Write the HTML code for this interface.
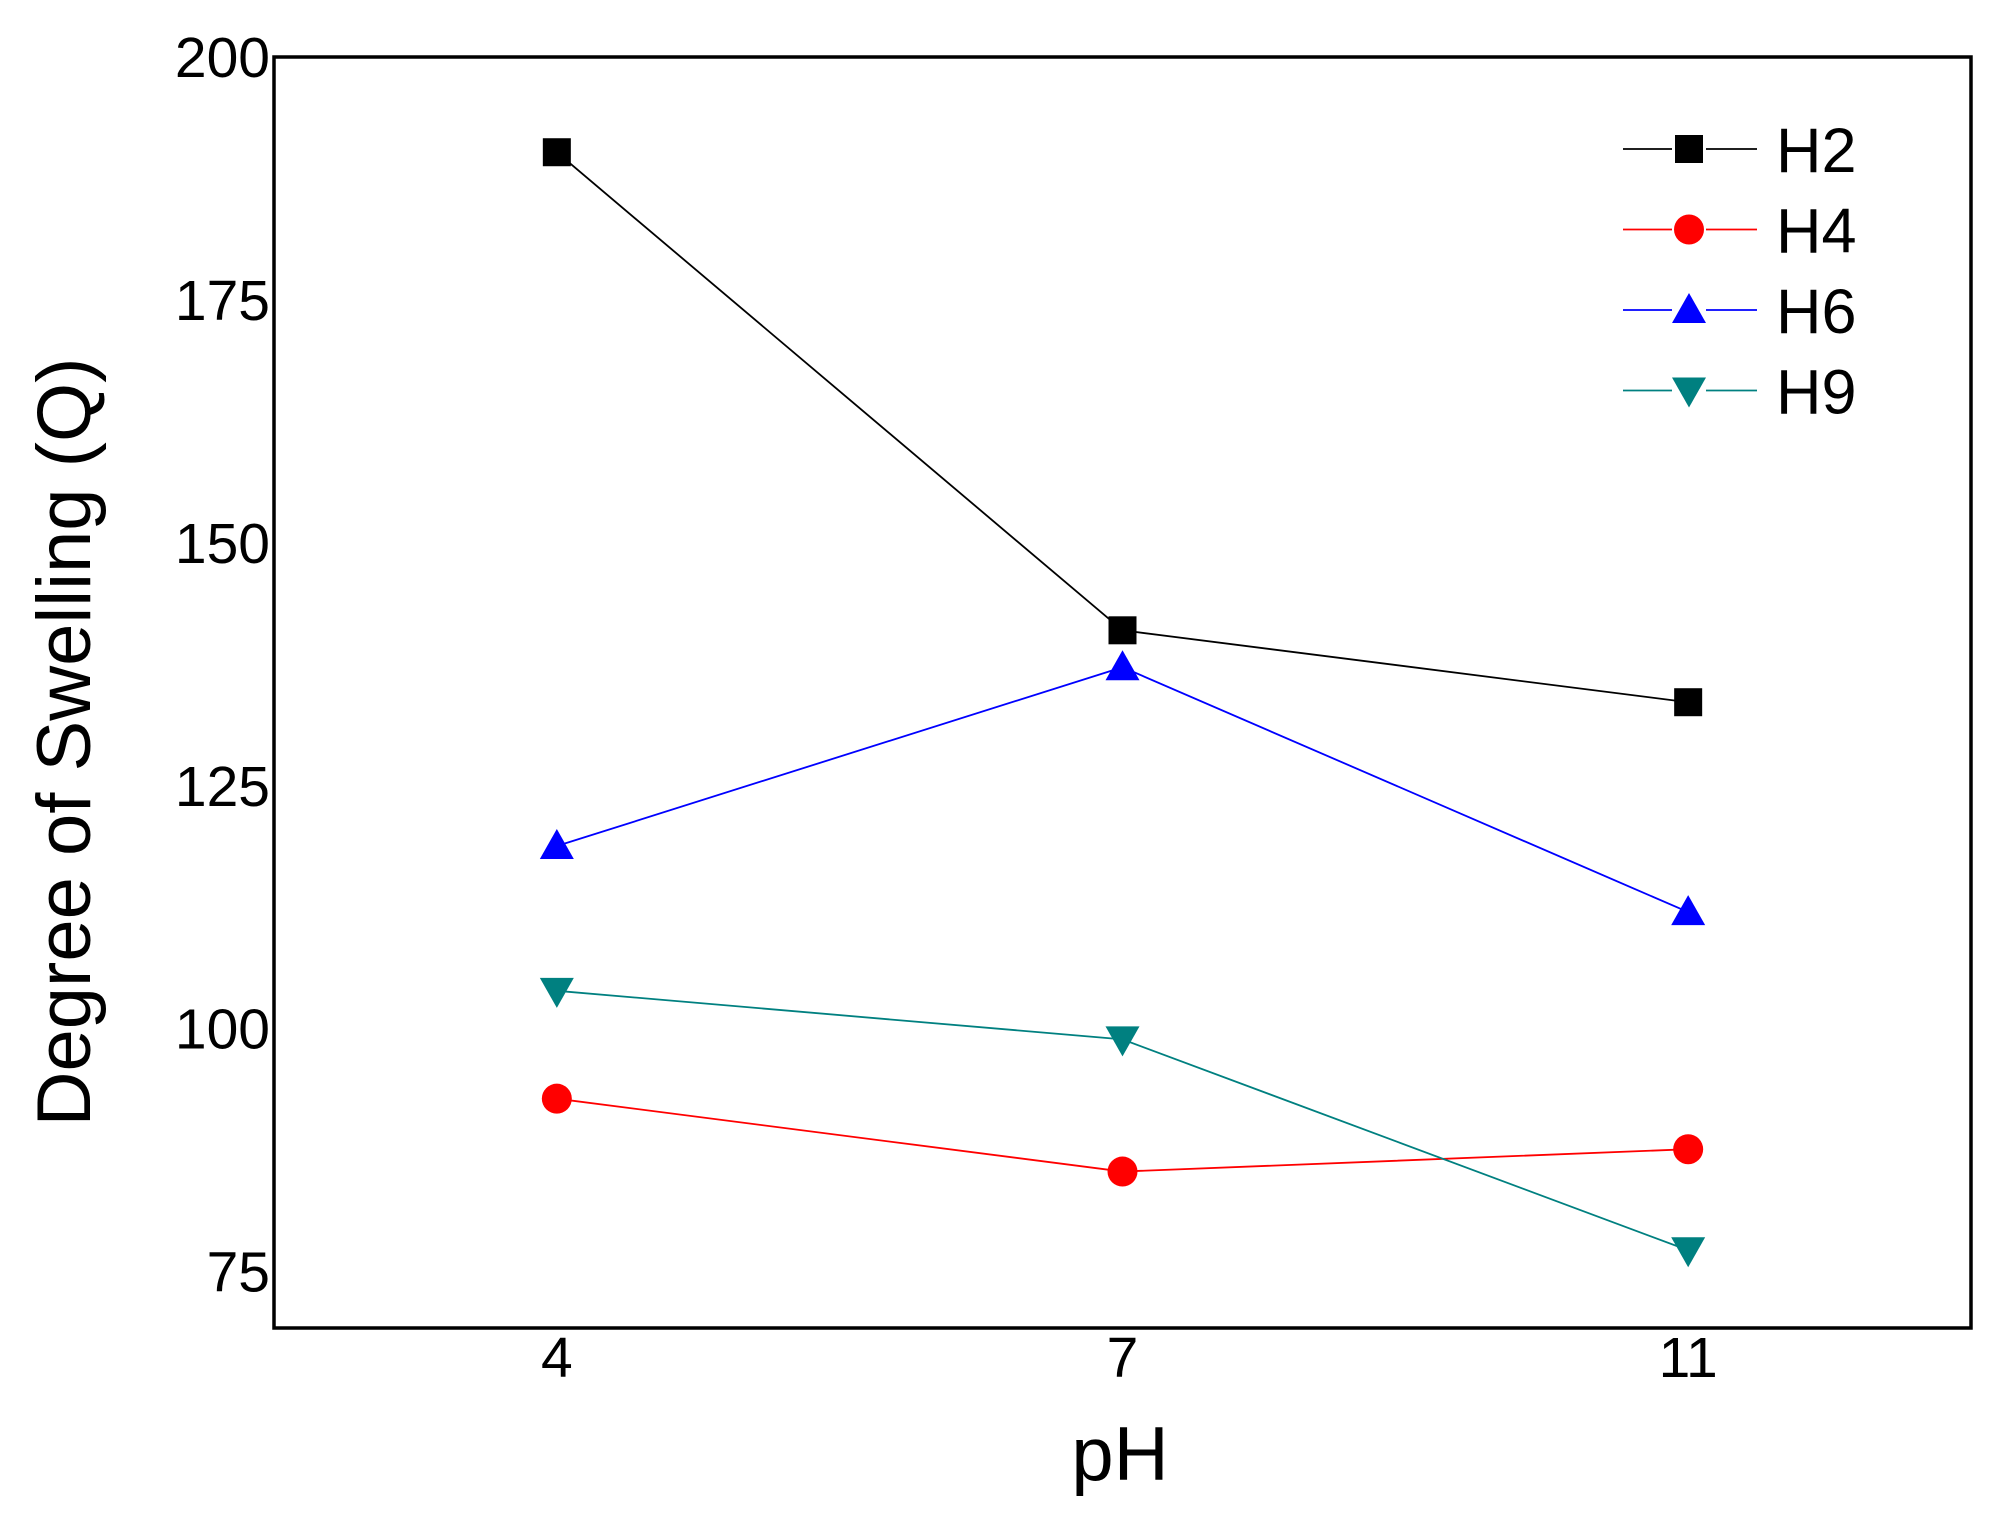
<!DOCTYPE html>
<html><head><meta charset="utf-8"><style>
html,body{margin:0;padding:0;background:#fff;}
svg{display:block;font-family:"Liberation Sans",Arial,sans-serif;}
</style></head><body>
<svg id="chart" width="1996" height="1516" viewBox="0 0 1996 1516">
<rect x="0" y="0" width="1996" height="1516" fill="#fff"/>
<g id="marks"></g>
<rect x="274" y="57" width="1697" height="1271" fill="none" stroke="#000" stroke-width="3.5"/>
<g id="yticks"></g><g id="xticks"></g>
<text x="0" y="0" transform="translate(90,742) rotate(-90)" text-anchor="middle" font-size="76">Degree of Swelling (Q)</text>
<text x="1120" y="1480" text-anchor="middle" font-size="76">pH</text>
<g id="legend"></g>
</svg>
<script>
const categories = ["4", "7", "11"];
const seriesNames = ["H2", "H4", "H6", "H9"];
const seriesColors = ["#000000", "#ff0000", "#0000ff", "#008080"];
const seriesMarkers = ["square", "circle", "triangle", "down"];
const h2Values = [190.2, 141.0, 133.6];
const h4Values = [92.8, 85.3, 87.6];
const h6Values = [118.8, 137.2, 112.0];
const h9Values = [103.9, 98.9, 77.2];
const yTicks = [75, 100, 125, 150, 175, 200];

const allValues = [h2Values, h4Values, h6Values, h9Values];
const plot = {left: 274, right: 1971, top: 57, bottom: 1328};
const yMin = 69.2, yMax = 200;
function yScale(v){ return plot.bottom - (v - yMin) / (yMax - yMin) * (plot.bottom - plot.top); }
function xScale(i){ const step = (plot.right - plot.left) / categories.length; return plot.left + step * (i + 0.5); }
const NS = "http://www.w3.org/2000/svg";
function mk(tag, attrs, parent){ const e = document.createElementNS(NS, tag); for (const k in attrs) e.setAttribute(k, attrs[k]); parent.appendChild(e); return e; }
function marker(type, cx, cy, color, parent){
  let e;
  if (type === "square") e = mk("rect", {x: cx-14, y: cy-14, width: 28, height: 28, fill: color}, parent);
  else if (type === "circle") e = mk("circle", {cx: cx, cy: cy, r: 15, fill: color}, parent);
  else if (type === "triangle") e = mk("polygon", {points: `${cx},${cy-17} ${cx-17},${cy+13} ${cx+17},${cy+13}`, fill: color}, parent);
  else e = mk("polygon", {points: `${cx},${cy+17} ${cx-17},${cy-13} ${cx+17},${cy-13}`, fill: color}, parent);
  return e;
}
const yt = document.getElementById("yticks");
yTicks.forEach(v => {
  const t = mk("text", {x: 270, y: yScale(v) + 20, "text-anchor": "end", "font-size": "57"}, yt);
  t.textContent = v;
  
  
});
const xt = document.getElementById("xticks");
categories.forEach((c, i) => {
  const t = mk("text", {x: xScale(i), y: 1377, "text-anchor": "middle", "font-size": "57"}, xt);
  t.textContent = c;
  
  
});
const mg = document.getElementById("marks");
allValues.forEach((vals, s) => {
  const g = mk("g", {}, mg);
  
  
  const pts = vals.map((v, i) => xScale(i) + "," + yScale(v)).join(" ");
  const pl = mk("polyline", {points: pts, fill: "none", stroke: seriesColors[s], "stroke-width": 1.8}, g);
  
  
  vals.forEach((v, i) => {
    const m = marker(seriesMarkers[s], xScale(i), yScale(v), seriesColors[s], g);
    
    
  });
});
const lg = document.getElementById("legend");
seriesNames.forEach((n, s) => {
  const y = 149 + s * 80.5;
  const g = mk("g", {}, lg);
  
  
  mk("line", {x1: 1623, x2: 1757, y1: y, y2: y, stroke: seriesColors[s], "stroke-width": 1.8}, g);
  mk("rect", {x: 1672, y: y-18, width: 34, height: 36, fill: "#fff"}, g);
  marker(seriesMarkers[s], 1689, y, seriesColors[s], g);
  const t = mk("text", {x: 1776, y: y + 23, "font-size": "63"}, g);
  t.textContent = n;
});
</script>
</body></html>
